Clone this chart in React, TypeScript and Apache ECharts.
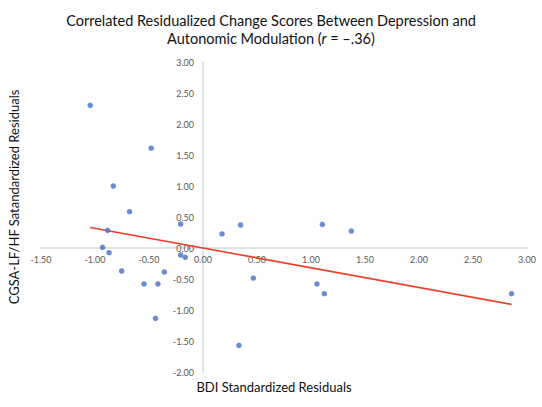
import React, { useEffect, useRef } from "react";
import * as echarts from "echarts";

const bdiResid = [-1.044, -0.48, -0.83, -0.68, -0.207, -0.883, -0.93, -0.87, -0.207, -0.164, -0.753, -0.358, -0.546, -0.417, -0.44, 0.176, 0.348, 0.466, 0.333, 1.105, 1.373, 1.055, 1.123, 2.857];
const cgsaResid = [2.3, 1.61, 1.0, 0.585, 0.387, 0.284, 0.01, -0.076, -0.113, -0.15, -0.371, -0.387, -0.58, -0.58, -1.135, 0.226, 0.371, -0.484, -1.571, 0.381, 0.274, -0.58, -0.737, -0.737];
const trendX = [-1.044, 2.857];
const trendY = [0.332, -0.909];

const titleLine1 = "Correlated Residualized Change Scores Between Depression and";
const titleLine2Pre = "Autonomic Modulation (";
const titleR = "r";
const titleLine2Post = " = \u2013.36)";
const xName = "BDI Standardized Residuals";
const yName = "CGSA-LF/HF Satandardized Residuals";

const FONT = "Lato, 'Open Sans', sans-serif";

const GRID_LEFT = 41;
const GRID_TOP = 62;
const GRID_W = 486;
const GRID_H = 310;
const X_MIN = -1.5;
const X_MAX = 3;
const Y_MIN = -2;
const Y_MAX = 3;

export default function App() {
  const ref = useRef<HTMLDivElement>(null);
  useEffect(() => {
    if (!ref.current) return;
    const chart = echarts.init(ref.current, undefined, { renderer: "svg" });
    const points = bdiResid.map((x, i) => [x, cgsaResid[i]]);
    const trend = trendX.map((x, i) => [x, trendY[i]]);
    // shift axes so they cross at (0,0), keeping labels attached to the lines
    const yAxisOffset = -((0 - X_MIN) / (X_MAX - X_MIN)) * GRID_W;
    const xAxisOffset = -((0 - Y_MIN) / (Y_MAX - Y_MIN)) * GRID_H;
    chart.setOption({
      animation: false,
      backgroundColor: "#ffffff",
      title: {
        text: `${titleLine1}\n${titleLine2Pre}{i|${titleR}}${titleLine2Post}`,
        left: "center",
        top: 6,
        textStyle: {
          fontFamily: FONT,
          fontSize: 14.5,
          fontWeight: "normal",
          color: "#111",
          lineHeight: 18,
          rich: {
            i: { fontFamily: FONT, fontSize: 14.5, fontStyle: "italic", color: "#111", lineHeight: 18 },
          },
        },
      },
      grid: { left: GRID_LEFT, top: GRID_TOP, width: GRID_W, height: GRID_H },
      xAxis: {
        type: "value",
        min: X_MIN,
        max: X_MAX,
        interval: 0.5,
        offset: xAxisOffset,
        axisLine: { onZero: false, lineStyle: { color: "#d9d9d9", width: 1.5 } },
        axisTick: { show: false },
        splitLine: { show: false },
        axisLabel: {
          formatter: (v: number) => v.toFixed(2),
          color: "#595959",
          fontSize: 9,
          fontFamily: FONT,
          margin: 7,
        },
      },
      yAxis: {
        type: "value",
        min: Y_MIN,
        max: Y_MAX,
        interval: 0.5,
        offset: yAxisOffset,
        axisLine: { onZero: false, lineStyle: { color: "#d9d9d9", width: 1.5 } },
        axisTick: { show: false },
        splitLine: { show: false },
        axisLabel: {
          formatter: (v: number) => v.toFixed(2),
          color: "#595959",
          fontSize: 9,
          fontFamily: FONT,
          margin: 9,
        },
      },
      graphic: [
        {
          type: "text",
          x: 274,
          y: 387,
          style: {
            text: xName,
            fontFamily: FONT,
            fontSize: 13,
            fill: "#111",
            textAlign: "center",
            textVerticalAlign: "middle",
          },
        },
        {
          type: "text",
          x: 14,
          y: 197,
          rotation: Math.PI / 2,
          style: {
            text: yName,
            fontFamily: FONT,
            fontSize: 13,
            fill: "#111",
            textAlign: "center",
            textVerticalAlign: "middle",
          },
        },
      ],
      series: [
        {
          type: "scatter",
          data: points,
          symbolSize: 5.5,
          itemStyle: { color: "#4472c4" },
          z: 3,
        },
        {
          type: "line",
          data: trend,
          symbol: "none",
          lineStyle: { color: "#e8402a", width: 1.6 },
          z: 2,
        },
      ],
    });
    return () => chart.dispose();
  }, []);
  return (
    <div
      ref={ref}
      style={{ position: "fixed", left: 0, top: 0, width: 542, height: 407, background: "#fff" }}
    />
  );
}
